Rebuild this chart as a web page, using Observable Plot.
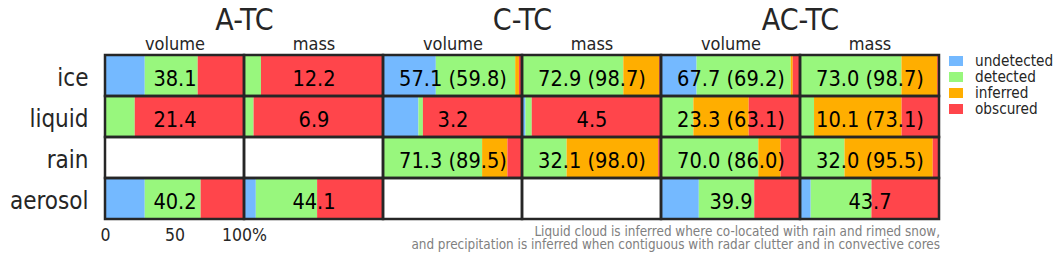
<!DOCTYPE html>
<html><head><meta charset="utf-8">
<script src="https://cdn.jsdelivr.net/npm/d3@7"></script>
<script src="https://cdn.jsdelivr.net/npm/@observablehq/plot@0.6"></script>
<style>
body{margin:0;background:#fff;font-family:"DejaVu Sans Condensed","DejaVu Sans",sans-serif;font-stretch:semi-condensed;}
#wrap{position:relative;width:1061px;height:259px;overflow:hidden;}
#chart{position:absolute;left:0;top:0;}
#chart svg text{font-stretch:semi-condensed;}
#legend{position:absolute;left:949px;top:52.5px;font-size:15.2px;color:#262626;}
.li{display:flex;align-items:center;height:16px;}
.sw{width:14px;height:10px;margin-right:12px;flex:none;}
#caption{position:absolute;right:121px;top:224.6px;font-size:13.4px;color:#808080;text-align:right;line-height:13.5px;white-space:nowrap;}
</style></head><body>
<div id="wrap"><div id="chart"></div><div id="legend"></div><div id="caption"></div></div>
<script>
const rows = ["ice","liquid","rain","aerosol"];
const groups = ["A-TC","C-TC","AC-TC"];
const measures = ["volume","mass"];
const categories = ["undetected","detected","inferred","obscured"];
const colors = ["#74b9ff","#98f77d","#ffae00","#ff454b"];
// one inner array per panel: A-TC volume, A-TC mass, C-TC volume, C-TC mass, AC-TC volume, AC-TC mass
// values per row: ice, liquid, rain, aerosol (null = no data)
const undetected = [
  [28.6, 0, null, 28.6],
  [0, 0, null, 8.5],
  [38.0, 25.5, 0, null],
  [0, 2.5, 0, null],
  [25.6, 0, 0, 27.2],
  [0, 0, 0, 7.7]
];
const detected = [
  [38.1, 21.4, null, 40.2],
  [12.2, 6.9, null, 44.1],
  [57.1, 3.2, 71.3, null],
  [72.9, 4.5, 32.1, null],
  [67.7, 23.3, 70.0, 39.9],
  [73.0, 10.1, 32.0, 43.7]
];
const inferred = [
  [0, 0, null, 0],
  [0, 0, null, 0],
  [2.7, 0, 18.2, null],
  [25.8, 0, 65.9, null],
  [1.5, 39.8, 16.0, 0],
  [25.7, 63.0, 63.5, 0]
];
const obscured = [
  [33.3, 78.6, null, 31.2],
  [87.8, 93.1, null, 47.4],
  [2.2, 71.3, 10.5, null],
  [1.3, 93.0, 2.0, null],
  [5.2, 36.9, 14.0, 32.9],
  [1.3, 26.9, 4.5, 48.6]
];
const cellLabels = [
  ["38.1", "21.4", "", "40.2"],
  ["12.2", "6.9", "", "44.1"],
  ["57.1 (59.8)", "3.2", "71.3 (89.5)", ""],
  ["72.9 (98.7)", "4.5", "32.1 (98.0)", ""],
  ["67.7 (69.2)", "23.3 (63.1)", "70.0 (86.0)", "39.9"],
  ["73.0 (98.7)", "10.1 (73.1)", "32.0 (95.5)", "43.7"]
];
const xDomain = [0, 100];
const tickValues = [0, 50, 100];
const tickLabels = ["0", "50", "100%"];
const captionLines = [
  "Liquid cloud is inferred where co-located with rain and rimed snow,",
  "and precipitation is inferred when contiguous with radar clutter and in convective cores"
];

const series = [undetected, detected, inferred, obscured];
const panels = [];
groups.forEach(g => measures.forEach(m => panels.push({key: g + " " + m, group: g, measure: m})));
const panelKeys = panels.map(p => p.key);

const segs = [], cells = [], texts = [];
panels.forEach((p, pi) => {
  rows.forEach((r, ri) => {
    cells.push({panel: p.key, row: r});
    if (cellLabels[pi][ri]) texts.push({panel: p.key, row: r, label: cellLabels[pi][ri]});
    categories.forEach((c, ci) => {
      const v = series[ci][pi][ri];
      if (v != null) segs.push({panel: p.key, row: r, cat: c, value: v});
    });
  });
});
const groupTitles = panels.filter(p => p.measure === measures[0]);

const font = "'DejaVu Sans Condensed', 'DejaVu Sans', sans-serif";
const chart = Plot.plot({
  width: 1061, height: 259,
  marginLeft: 103, marginRight: 121, marginTop: 55, marginBottom: 40,
  style: {fontFamily: font, color: "#262626", background: "white"},
  fx: {domain: panelKeys, padding: 0, axis: null},
  x: {domain: xDomain, axis: null},
  y: {domain: rows, padding: 0, label: null, axis: null},
  color: {domain: categories, range: colors},
  marks: [
    Plot.barX(segs, {x: "value", y: "row", fx: "panel", fill: "cat", order: categories, inset: 0}),
    Plot.barX(cells, {x1: () => xDomain[0], x2: () => xDomain[1], y: "row", fx: "panel", fill: "none", stroke: "#262626", strokeWidth: 2.5, inset: 0}),
    Plot.text(texts, {y: "row", fx: "panel", text: "label", fontSize: 21.6, dy: 3, fill: "black"}),
    Plot.text(panels, {fx: "key", text: "measure", frameAnchor: "top", lineAnchor: "bottom", dy: -5.5, fontSize: 18, fill: "#262626"}),
    Plot.text(groupTitles, {fx: "key", text: "group", frameAnchor: "top-right", textAnchor: "middle", lineAnchor: "bottom", dy: -25.5, fontSize: 30, fill: "#262626"}),
    Plot.axisY({fx: () => panelKeys[0], tickSize: 0, tickPadding: 17, fontSize: 24, dy: 2, label: null}),
    Plot.text(tickValues, {x: d => d, fx: () => panelKeys[0], text: (d, i) => tickLabels[i], frameAnchor: "bottom", lineAnchor: "top", dy: 9, fontSize: 17.5, fill: "#262626"})
  ]
});
document.getElementById("chart").appendChild(chart);

const leg = document.getElementById("legend");
categories.forEach((c, i) => {
  const d = document.createElement("div"); d.className = "li";
  const s = document.createElement("div"); s.className = "sw"; s.style.background = colors[i];
  const t = document.createElement("span"); t.textContent = c;
  d.appendChild(s); d.appendChild(t); leg.appendChild(d);
});
const cap = document.getElementById("caption");
captionLines.forEach(l => { const d = document.createElement("div"); d.textContent = l; cap.appendChild(d); });
</script>
</body></html>
